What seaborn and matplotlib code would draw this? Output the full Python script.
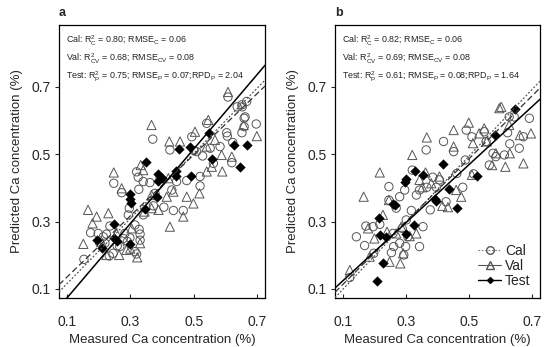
import numpy as np
import pandas as pd
import matplotlib
matplotlib.use("Agg")
import matplotlib.pyplot as plt
import seaborn as sns
from matplotlib.lines import Line2D

sns.set_style("ticks")
plt.rcParams['font.family'] = ['Liberation Sans', 'DejaVu Sans']
plt.rcParams['mathtext.fontset'] = 'custom'
plt.rcParams['mathtext.rm'] = 'Liberation Sans'
plt.rcParams['mathtext.it'] = 'Liberation Sans'

# ---------------- Panel a data ----------------
a_cal_x = [0.154, 0.175, 0.199, 0.204, 0.225, 0.234, 0.236, 0.248, 0.267, 0.273, 0.283, 0.291, 0.297, 0.299,
           0.315, 0.320, 0.327, 0.328, 0.331, 0.320, 0.325, 0.341, 0.362, 0.371, 0.373, 0.378, 0.394, 0.406,
           0.425, 0.431, 0.436, 0.446, 0.467, 0.478, 0.494, 0.501, 0.509, 0.520, 0.520, 0.528, 0.541, 0.552,
           0.562, 0.583, 0.604, 0.606, 0.620, 0.623, 0.652, 0.659, 0.652, 0.667, 0.697, 0.659, 0.341, 0.294,
           0.220, 0.315, 0.215, 0.278, 0.259, 0.331, 0.246, 0.608, 0.637, 0.653, 0.662]
a_cal_y = [0.188, 0.267, 0.265, 0.236, 0.263, 0.198, 0.287, 0.414, 0.226, 0.386, 0.265, 0.241, 0.340, 0.252,
           0.290, 0.204, 0.396, 0.277, 0.263, 0.448, 0.432, 0.419, 0.416, 0.545, 0.347, 0.384, 0.429, 0.343,
           0.513, 0.394, 0.333, 0.419, 0.333, 0.422, 0.552, 0.511, 0.508, 0.434, 0.406, 0.495, 0.592, 0.518,
           0.473, 0.523, 0.564, 0.554, 0.475, 0.535, 0.564, 0.607, 0.647, 0.657, 0.590, 0.582, 0.320, 0.320,
           0.236, 0.211, 0.255, 0.250, 0.228, 0.245, 0.206, 0.670, 0.641, 0.641, 0.611]
a_val_x = [0.152, 0.167, 0.194, 0.181, 0.231, 0.248, 0.273, 0.265, 0.288, 0.331, 0.322, 0.333, 0.341, 0.367,
           0.367, 0.389, 0.420, 0.423, 0.457, 0.478, 0.467, 0.504, 0.518, 0.541, 0.546, 0.557, 0.588, 0.590,
           0.620, 0.657, 0.699, 0.425, 0.367, 0.304, 0.257, 0.209, 0.225, 0.499, 0.415, 0.436, 0.541, 0.567,
           0.608, 0.300, 0.345]
a_val_y = [0.234, 0.335, 0.315, 0.295, 0.325, 0.446, 0.399, 0.201, 0.216, 0.236, 0.194, 0.468, 0.453, 0.587,
           0.379, 0.335, 0.429, 0.538, 0.538, 0.374, 0.315, 0.567, 0.384, 0.523, 0.602, 0.463, 0.498, 0.449,
           0.493, 0.587, 0.554, 0.285, 0.340, 0.280, 0.265, 0.241, 0.201, 0.354, 0.374, 0.389, 0.449, 0.543,
           0.685, 0.220, 0.330]
a_test_x = [0.194, 0.211, 0.248, 0.248, 0.259, 0.300, 0.299, 0.299, 0.301, 0.350, 0.346, 0.385, 0.387, 0.387,
            0.401, 0.443, 0.445, 0.455, 0.490, 0.488, 0.547, 0.557, 0.627, 0.647, 0.667]
a_test_y = [0.244, 0.223, 0.292, 0.252, 0.242, 0.234, 0.381, 0.366, 0.354, 0.477, 0.337, 0.374, 0.441, 0.422,
            0.430, 0.450, 0.436, 0.515, 0.435, 0.523, 0.562, 0.487, 0.527, 0.461, 0.529]

# ---------------- Panel b data ----------------
b_cal_x = [0.122, 0.143, 0.169, 0.173, 0.196, 0.198, 0.217, 0.246, 0.246, 0.254, 0.261, 0.269, 0.280, 0.288,
           0.293, 0.296, 0.299, 0.301, 0.306, 0.317, 0.320, 0.333, 0.343, 0.364, 0.366, 0.377, 0.385, 0.396,
           0.406, 0.419, 0.427, 0.451, 0.461, 0.480, 0.488, 0.491, 0.509, 0.514, 0.548, 0.554, 0.564, 0.576,
           0.585, 0.612, 0.622, 0.629, 0.659, 0.691, 0.672, 0.343, 0.354, 0.259, 0.280, 0.627, 0.643]
b_cal_y = [0.134, 0.255, 0.229, 0.287, 0.285, 0.206, 0.292, 0.404, 0.364, 0.208, 0.226, 0.340, 0.236, 0.280,
           0.201, 0.394, 0.226, 0.305, 0.255, 0.333, 0.453, 0.379, 0.394, 0.513, 0.402, 0.335, 0.432, 0.402,
           0.424, 0.538, 0.359, 0.508, 0.443, 0.402, 0.483, 0.572, 0.552, 0.442, 0.567, 0.538, 0.468, 0.503,
           0.493, 0.498, 0.564, 0.531, 0.518, 0.607, 0.552, 0.226, 0.285, 0.265, 0.374, 0.611, 0.611]
b_val_x = [0.122, 0.166, 0.180, 0.185, 0.217, 0.227, 0.246, 0.248, 0.282, 0.291, 0.312, 0.320, 0.333, 0.352,
           0.362, 0.366, 0.380, 0.415, 0.433, 0.451, 0.451, 0.459, 0.475, 0.499, 0.509, 0.532, 0.548, 0.556,
           0.573, 0.585, 0.596, 0.615, 0.627, 0.629, 0.661, 0.672, 0.696, 0.269, 0.285, 0.343, 0.406, 0.512,
           0.602, 0.200, 0.240]
b_val_y = [0.156, 0.374, 0.280, 0.196, 0.446, 0.320, 0.364, 0.181, 0.176, 0.206, 0.257, 0.498, 0.265, 0.402,
           0.446, 0.550, 0.414, 0.347, 0.343, 0.572, 0.523, 0.394, 0.374, 0.594, 0.439, 0.562, 0.577, 0.538,
           0.468, 0.503, 0.637, 0.463, 0.587, 0.503, 0.557, 0.473, 0.562, 0.265, 0.285, 0.424, 0.434, 0.533,
           0.641, 0.250, 0.270]
b_test_x = [0.208, 0.214, 0.217, 0.236, 0.227, 0.259, 0.264, 0.296, 0.299, 0.301, 0.327, 0.330, 0.354, 0.391,
            0.396, 0.417, 0.436, 0.461, 0.524, 0.583, 0.646]
b_test_y = [0.125, 0.310, 0.260, 0.255, 0.178, 0.352, 0.348, 0.419, 0.426, 0.263, 0.290, 0.450, 0.439, 0.366,
            0.362, 0.471, 0.396, 0.340, 0.436, 0.557, 0.634]

# Regression lines (slope, intercept): Cal (dotted), Val (dashed), Test (solid)
a_fit = {"Cal": (0.969, 0.018), "Val": (0.909, 0.044), "Test": (1.107, -0.038)}
b_fit = {"Cal": (0.99, 0.0), "Val": (0.934, 0.02), "Test": (0.863, 0.038)}

a_text = [r"Cal: R$_\mathrm{C}^2$ = 0.80; RMSE$_\mathrm{C}$ = 0.06",
          r"Val: R$_\mathrm{CV}^2$ = 0.68; RMSE$_\mathrm{CV}$ = 0.08",
          r"Test: R$_\mathrm{P}^2$ = 0.75; RMSE$_\mathrm{P}$ = 0.07;RPD$_\mathrm{P}$ = 2.04"]
b_text = [r"Cal: R$_\mathrm{C}^2$ = 0.82; RMSE$_\mathrm{C}$ = 0.06",
          r"Val: R$_\mathrm{CV}^2$ = 0.69; RMSE$_\mathrm{CV}$ = 0.08",
          r"Test: R$_\mathrm{P}^2$ = 0.61; RMSE$_\mathrm{P}$ = 0.08;RPD$_\mathrm{P}$ = 1.64"]

ticks = [0.1, 0.3, 0.5, 0.7]
xlim = (0.075, 0.725)
ylim = (0.073, 0.884)

fig = plt.figure(figsize=(5.5, 3.47), dpi=100)
ax_a = fig.add_axes([0.107, 0.141, 0.375, 0.787])
ax_b = fig.add_axes([0.609, 0.141, 0.373, 0.787])

styles = {"Cal": dict(ls=(0, (1.5, 1.5)), color="#555555", lw=0.9),
          "Val": dict(ls=(0, (5, 2.5)), color="#333333", lw=0.9),
          "Test": dict(ls="-", color="black", lw=1.1)}

def draw(ax, cx, cy, vx, vy, tx, ty, fits, texts, label):
    sns.scatterplot(x=cx, y=cy, ax=ax, marker="o", s=36, facecolor="none",
                    edgecolor="#555555", linewidth=0.7, zorder=2)
    sns.scatterplot(x=vx, y=vy, ax=ax, marker="^", s=44, facecolor="none",
                    edgecolor="#555555", linewidth=0.7, zorder=2)
    sns.scatterplot(x=tx, y=ty, ax=ax, marker="D", s=24, color="black",
                    edgecolor="black", linewidth=0.3, zorder=3)
    xs = np.array(xlim)
    for k in ["Cal", "Val", "Test"]:
        m, b = fits[k]
        ax.plot(xs, m * xs + b, **styles[k], zorder=4)
    ax.set_xlim(*xlim)
    ax.set_ylim(*ylim)
    ax.set_xticks(ticks)
    ax.set_yticks(ticks)
    ax.set_xticklabels([f"{t:.1f}" for t in ticks])
    ax.set_yticklabels([f"{t:.1f}" for t in ticks])
    ax.tick_params(axis="x", direction="in", length=3, width=0.8, pad=12, labelsize=10)
    ax.tick_params(axis="y", direction="out", length=3, width=0.8, pad=3, labelsize=10)
    for sp in ax.spines.values():
        sp.set_visible(True)
        sp.set_linewidth(0.9)
        sp.set_color("black")
    ax.set_xlabel("Measured Ca concentration (%)", fontsize=9.5, labelpad=4)
    ax.set_ylabel("Predicted Ca concentration (%)", fontsize=9.5, labelpad=6)
    for i, t in enumerate(texts):
        ax.text(0.035, 0.94 - i * 0.065, t, transform=ax.transAxes, fontsize=6.4,
                va="center", ha="left", color="#222222")
    ax.text(0.0, 1.045, label, transform=ax.transAxes, fontsize=9, fontweight="bold",
            ha="left", va="center")

draw(ax_a, a_cal_x, a_cal_y, a_val_x, a_val_y, a_test_x, a_test_y, a_fit, a_text, "a")
draw(ax_b, b_cal_x, b_cal_y, b_val_x, b_val_y, b_test_x, b_test_y, b_fit, b_text, "b")

handles = [Line2D([0], [0], ls=(0, (1.5, 1.5)), color="#777777", lw=0.8, marker="o",
                  markerfacecolor="none", markeredgecolor="#555555", markersize=5.5),
           Line2D([0], [0], ls="-", color="#555555", lw=0.8, marker="^",
                  markerfacecolor="none", markeredgecolor="#555555", markersize=6),
           Line2D([0], [0], ls="-", color="black", lw=1.0, marker="D",
                  markerfacecolor="black", markeredgecolor="black", markersize=3)]
ax_b.legend(handles, ["Cal", "Val", "Test"], loc="lower right", frameon=False,
            fontsize=10, handlelength=1.6, handletextpad=0.3, labelspacing=0.1,
            borderaxespad=0.3, bbox_to_anchor=(1.0, 0.0))

fig.savefig("out.png", dpi=100)
